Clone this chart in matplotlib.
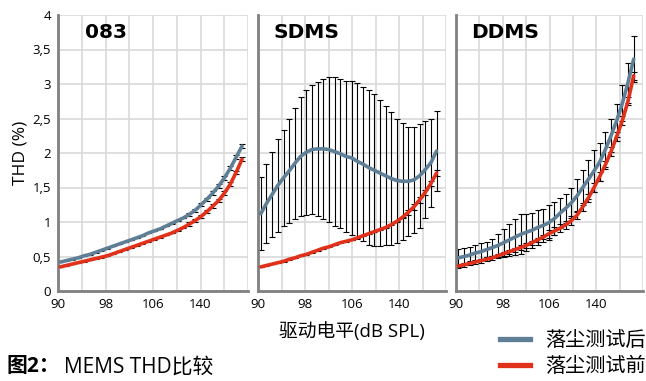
import numpy as np
import matplotlib
matplotlib.use('Agg')
import matplotlib.pyplot as plt
from matplotlib.lines import Line2D

plt.rcParams['font.family'] = ['Open Sans', 'Noto Sans CJK SC', 'DejaVu Sans']

# ---- data ----
panel_titles = ['083', 'SDMS', 'DDMS']
tick_labels = ['90', '98', '106', '140']
y_tick_labels = ['0', '0,5', '1', '1,5', '2', '2,5', '3', '3,5', '4']
legend_labels = ['落尘测试后', '落尘测试前']

# 083
p1_after = [0.42, 0.44, 0.46, 0.48, 0.51, 0.53, 0.56, 0.59, 0.62, 0.65, 0.68, 0.71, 0.74, 0.77, 0.80, 0.84,
            0.87, 0.90, 0.94, 0.98, 1.02, 1.06, 1.11, 1.17, 1.25, 1.33, 1.42, 1.52, 1.64, 1.78, 1.94, 2.10]
p1_before = [0.35, 0.37, 0.39, 0.41, 0.43, 0.45, 0.47, 0.49, 0.51, 0.54, 0.57, 0.60, 0.63, 0.66, 0.69, 0.72,
             0.75, 0.78, 0.81, 0.84, 0.88, 0.92, 0.97, 1.02, 1.08, 1.15, 1.23, 1.31, 1.42, 1.55, 1.72, 1.91]
p1_after_err = [0.005] * 22 + [0.025] * 10
p1_before_err = [0.005] * 22 + [0.025] * 10

# SDMS
p2_after = [1.12, 1.27, 1.40, 1.53, 1.64, 1.74, 1.85, 1.95, 2.01, 2.05, 2.06, 2.06, 2.05, 2.02, 1.99, 1.95,
            1.93, 1.88, 1.84, 1.79, 1.75, 1.71, 1.67, 1.63, 1.60, 1.59, 1.59, 1.61, 1.67, 1.76, 1.86, 2.03]
p2_after_err = [0.53, 0.57, 0.62, 0.67, 0.70, 0.75, 0.80, 0.86, 0.91, 0.94, 0.97, 1.01, 1.05, 1.08, 1.08, 1.09,
                1.12, 1.13, 1.12, 1.12, 1.10, 1.06, 1.01, 0.96, 0.90, 0.85, 0.79, 0.77, 0.75, 0.70, 0.64, 0.58]
p2_before = [0.35, 0.37, 0.39, 0.41, 0.43, 0.46, 0.48, 0.51, 0.53, 0.56, 0.59, 0.62, 0.64, 0.67, 0.70, 0.72,
             0.74, 0.77, 0.80, 0.83, 0.86, 0.89, 0.92, 0.96, 1.01, 1.07, 1.14, 1.22, 1.32, 1.43, 1.56, 1.71]
p2_before_err = [0.005] * 26 + [0.04] * 6

# DDMS
p3_after = [0.48, 0.50, 0.52, 0.55, 0.57, 0.60, 0.63, 0.66, 0.70, 0.74, 0.78, 0.82, 0.85, 0.88, 0.92, 0.95,
            0.99, 1.05, 1.13, 1.20, 1.28, 1.38, 1.50, 1.62, 1.74, 1.87, 2.05, 2.25, 2.47, 2.72, 3.02, 3.36]
p3_after_err = [0.13, 0.12, 0.12, 0.12, 0.12, 0.11, 0.12, 0.16, 0.20, 0.23, 0.26, 0.29, 0.27, 0.25, 0.25, 0.24,
                0.25, 0.24, 0.22, 0.21, 0.22, 0.24, 0.26, 0.28, 0.30, 0.28, 0.26, 0.24, 0.24, 0.26, 0.29, 0.33]
p3_before = [0.36, 0.38, 0.40, 0.42, 0.44, 0.46, 0.48, 0.51, 0.54, 0.57, 0.60, 0.63, 0.66, 0.70, 0.74, 0.78,
             0.83, 0.87, 0.91, 0.96, 1.02, 1.10, 1.22, 1.35, 1.50, 1.66, 1.83, 2.02, 2.24, 2.47, 2.75, 3.12]
p3_before_err = [0.03] * 16 + [0.06] * 16

after_sets = [(p1_after, p1_after_err), (p2_after, p2_after_err), (p3_after, p3_after_err)]
before_sets = [(p1_before, p1_before_err), (p2_before, p2_before_err), (p3_before, p3_before_err)]
x_ends = [(0.1, 7.75), (0.12, 7.6), (0.1, 7.6)]

blue = '#5f7f96'
red = '#e2311a'

fig = plt.figure(figsize=(6.46, 3.81), dpi=100)

# axes positions in pixels (left, right)
ax_px = [(58, 248), (258, 446), (456, 643)]
W, H = 646.0, 381.0
bottom = 1 - 291 / H
height = (291 - 15) / H

axes = []
for k in range(3):
    l, r = ax_px[k]
    ax = fig.add_axes([l / W, bottom, (r - l) / W, height])
    axes.append(ax)
    x0, x1 = x_ends[k]
    xs = np.linspace(x0, x1, 32)

    for vals, err in [after_sets[k], before_sets[k]]:
        ax.errorbar(xs, vals, yerr=err, fmt='none', ecolor='black', elinewidth=0.8,
                    capsize=2.2, capthick=0.8, zorder=2)
    ax.plot(xs, after_sets[k][0], color=blue, lw=2.6, zorder=3, solid_capstyle='round')
    ax.plot(xs, before_sets[k][0], color=red, lw=2.6, zorder=4, solid_capstyle='round')

    ax.set_xlim(0, 8)
    ax.set_ylim(0, 4)
    ax.set_xticks(np.arange(0, 9, 1))
    ax.set_xticklabels([tick_labels[i // 2] if i % 2 == 0 and i < 8 else '' for i in range(9)])
    ax.set_yticks(np.arange(0, 4.01, 0.5))
    if k == 0:
        ax.set_yticklabels(y_tick_labels)
        ax.set_ylabel('THD (%)', fontsize=12.5, labelpad=3)
    else:
        ax.set_yticklabels([])
    ax.tick_params(length=0, labelsize=9.5, pad=5)
    ax.grid(True, color='#d9d9d9', lw=1.2, zorder=0)
    ax.set_axisbelow(True)
    for s in ['top', 'right']:
        ax.spines[s].set_visible(False)
    for s in ['left', 'bottom']:
        ax.spines[s].set_color('#808080')
        ax.spines[s].set_linewidth(2)

    tx = 0.14 if k == 0 else 0.08
    ax.text(tx, 0.935, panel_titles[k], transform=ax.transAxes, fontsize=14.5,
            fontweight='bold', family='DejaVu Sans', va='center', ha='left')

axes[1].set_xlabel('驱动电平(dB SPL)', fontsize=13.5, labelpad=8)

handles = [Line2D([], [], color=blue, lw=3.8), Line2D([], [], color=red, lw=3.8)]
fig.legend(handles, legend_labels, loc='upper left', bbox_to_anchor=(500 / W, 1 - 331 / H),
           frameon=False, fontsize=14.5, handlelength=1.5, handletextpad=0.75, labelspacing=0.3,
           borderaxespad=0, borderpad=0)

fig.text(7 / W, 1 - 367 / H, '图2：', fontsize=15, fontweight='bold', va='center', ha='left')
fig.text(64 / W, 1 - 367 / H, 'MEMS THD比较', fontsize=15, va='center', ha='left')

fig.savefig('out.png', dpi=100)
